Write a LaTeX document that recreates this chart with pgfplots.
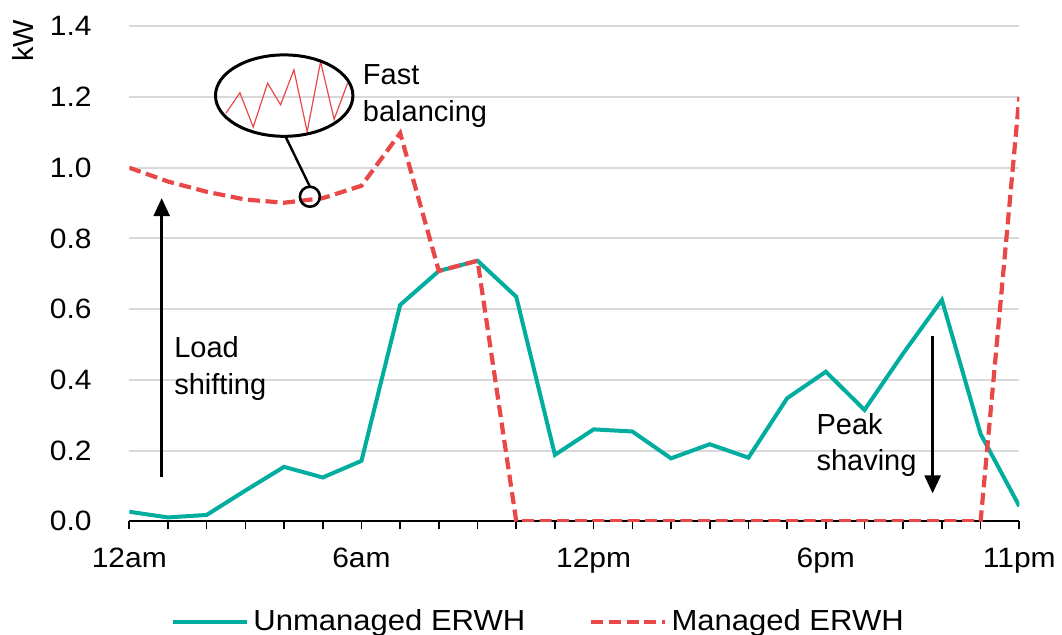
\documentclass[border=0pt]{standalone}
\usepackage{pgfplots}
\pgfplotsset{compat=1.18}
\usepackage{fontspec}
\setmainfont{Liberation Sans}
\newfontfamily\widefont{Liberation Sans}[FakeStretch=1.07]
\usetikzlibrary{arrows.meta}
\definecolor{teal1}{RGB}{0,173,159}
\definecolor{red1}{RGB}{232,72,72}
\definecolor{grid1}{RGB}{217,217,217}
\begin{document}
\begin{tikzpicture}
\begin{axis}[
  at={(0pt,0pt)}, anchor=south west,
  scale only axis, width=445pt, height=247.5pt,
  xmin=0, xmax=23, ymin=0, ymax=1.4,
  axis x line*=bottom, axis y line*=left,
  y axis line style={draw=none},
  x axis line style={line width=1pt, black},
  ytick={0,0.2,...,1.4},
  ytick style={draw=none},
  xtick={0,...,23},
  xticklabels={12am,,,,,,6am,,,,,,12pm,,,,,,6pm,,,,,11pm},
  xtick style={black, line width=0.8pt},
  tick align=outside, major tick length=4pt,
  ymajorgrids, grid style={grid1, line width=1pt},
  /pgf/number format/assume math mode=true,
  /pgf/number format/fixed, /pgf/number format/fixed zerofill, /pgf/number format/precision=1,
  tick label style={font=\widefont\fontsize{14}{17}\selectfont},
  yticklabel style={anchor=east, inner sep=0pt, xshift=-14.65pt},
  xticklabel style={anchor=base, inner sep=0pt, yshift=-19pt},
  legend columns=2,
  legend style={at={(0.461,-0.203)}, anchor=center, draw=none, fill=none,
    font=\widefont\fontsize{14.5}{18}\selectfont,
    /tikz/every even column/.append style={column sep=30pt},
    inner sep=0pt},
  legend cell align=left,
  legend image code/.code={\draw[#1] (0pt,0pt) -- (37pt,0pt);},
]
\addplot[teal1, line width=2pt] coordinates {
(0,0.027) (1,0.011) (2,0.018) (3,0.087) (4,0.154) (5,0.124) (6,0.171) (7,0.612)
(8,0.708) (9,0.737) (10,0.635) (11,0.188) (12,0.26) (13,0.254) (14,0.178) (15,0.218)
(16,0.18) (17,0.348) (18,0.423) (19,0.315) (20,0.475) (21,0.626) (22,0.247) (23,0.043)
};
\addlegendentry{Unmanaged ERWH}
\addplot[red1, line width=2.1pt, dash pattern=on 6pt off 2.8pt] coordinates {
(0,1.0) (1,0.961) (2,0.932) (3,0.91) (4,0.901) (5,0.914) (6,0.949) (7,1.098)
(8,0.708) (9,0.737) (10,0) (11,0) (12,0) (13,0) (14,0) (15,0)
(16,0) (17,0) (18,0) (19,0) (20,0) (21,0) (22,0) (23,1.2)
};
\addlegendentry{Managed ERWH}
% annotations
\draw[line width=1.3pt, -{Triangle[width=8pt,length=9pt]}] (axis cs:0.837,0.126) -- (axis cs:0.837,0.914);
\draw[line width=1.3pt, -{Triangle[width=8pt,length=9pt]}] (axis cs:20.76,0.524) -- (axis cs:20.76,0.079);
\node[anchor=west, align=left, inner sep=0pt, font=\fontsize{14.5}{18.3}\selectfont] at (axis cs:1.154,0.433) {Load\\shifting};
\node[anchor=west, align=left, inner sep=0pt, font=\fontsize{14.5}{18.3}\selectfont] at (axis cs:17.75,0.216) {Peak\\shaving};
\node[anchor=west, align=left, inner sep=0pt, font=\fontsize{14.5}{18.3}\selectfont] at (axis cs:6.028,1.203) {Fast\\balancing};
\draw[red1, line width=0.6pt] (axis cs:2.497,1.154) -- (axis cs:2.859,1.212) -- (axis cs:3.202,1.115) -- (axis cs:3.574,1.239) -- (axis cs:3.910,1.178) -- (axis cs:4.254,1.277) -- (axis cs:4.597,1.102) -- (axis cs:4.943,1.300) -- (axis cs:5.294,1.137) -- (axis cs:5.641,1.239);
\draw[black, line width=1.5pt] (axis cs:4.003,1.204) ellipse [x radius=34.35pt, y radius=20.35pt];
\draw[black, line width=1.3pt] (axis cs:4.667,0.918) circle [radius=5pt];
\draw[black, line width=1.2pt] (axis cs:4.667,0.9466) -- (axis cs:4.047,1.086);
\end{axis}
\node[rotate=90, inner sep=0pt, font=\fontsize{14.5}{17}\selectfont] at (-53.15pt,240.15pt) {kW};
\pgfresetboundingbox
\path[use as bounding box] (-64.65pt,-56.35pt) rectangle (466.35pt,260.65pt);
\end{tikzpicture}
\end{document}
